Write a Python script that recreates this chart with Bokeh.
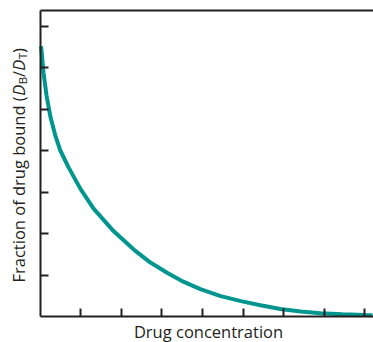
import math
from bokeh.plotting import figure
from bokeh.models import Range1d, FixedTicker, Label, LinearAxis
from bokeh.embed import file_html
from bokeh.resources import INLINE

# ---- data (arbitrary units) ----
conc = [0.025, 0.037, 0.086, 0.16, 0.26, 0.38, 0.50, 0.70, 1.00, 1.32, 1.79, 2.35,
        2.72, 3.14, 3.53, 3.95, 4.45, 4.95, 5.43, 5.92, 6.42, 6.91, 7.45, 7.99, 8.19]
frac_bound = [6.51, 6.41, 5.88, 5.33, 4.80, 4.35, 4.00, 3.60, 3.07, 2.60, 2.08, 1.58,
              1.30, 1.05, 0.84, 0.66, 0.49, 0.37, 0.27, 0.18, 0.12, 0.08, 0.053, 0.036,
              0.031]
x_ticks = [1, 2, 3, 4, 5, 6, 7, 8]
y_ticks = [1, 2, 3, 4, 5, 6, 7]
x_label = "Drug concentration"
y_label_main = "Fraction of drug bound ("

INK = "#231f20"
TEAL = "#00968f"
FONT = "Open Sans"

W, H = 373, 342
# layout of the plot area in page pixels
X0_PX, Y0_PX = 39.5, 316.0     # where the data origin sits
PX_X, PX_Y = 40.6, 41.5        # pixels per data unit
TOP_PX = 10.0                  # top frame line

X_START = -X0_PX / PX_X
X_END = (W - X0_PX) / PX_X
Y_START = -(H - Y0_PX) / PX_Y
Y_END = Y0_PX / PX_Y
Y_TOP = (Y0_PX - TOP_PX) / PX_Y

p = figure(width=W, height=H, output_backend="svg", toolbar_location=None,
           x_range=Range1d(X_START, X_END), y_range=Range1d(Y_START, Y_END),
           min_border=0, x_axis_type=None, y_axis_type=None)
p.grid.visible = False
p.outline_line_color = None
p.background_fill_color = "white"
p.border_fill_color = "white"


def make_axis(ticks, bounds, loc):
    ax = LinearAxis(fixed_location=loc, bounds=bounds)
    ax.ticker = FixedTicker(ticks=ticks)
    ax.axis_line_color = INK
    ax.axis_line_width = 2
    ax.major_tick_line_color = INK if ticks else None
    ax.major_tick_line_width = 2
    ax.major_tick_in = 8
    ax.major_tick_out = 0
    ax.minor_tick_line_color = None
    ax.major_label_text_color = None
    ax.major_label_text_font_size = "1px"
    ax.major_label_standoff = 0
    return ax


p.add_layout(make_axis(x_ticks, (0, X_END), 0), "below")
p.add_layout(make_axis(y_ticks, (0, Y_TOP), 0), "left")
p.add_layout(make_axis([], (0, X_END), Y_TOP), "above")

p.line(conc, frac_bound, line_color=TEAL, line_width=4)

# x label (screen px from the bottom-left of the canvas)
p.add_layout(Label(x=208, y=H - 331, x_units="screen", y_units="screen",
                   text=x_label, text_align="center", text_baseline="alphabetic",
                   text_font=FONT, text_font_size="16.5px", text_color=INK))

# rotated y label composed of pieces
FS = 16.5
SS = 11.5
pieces = [
    (y_label_main, "normal", FS, 0.0, 11.318),
    ("D", "italic", FS, 0.0, 0.70),
    ("B", "normal", SS, 3.5, 0.633),
    ("/", "normal", FS, 0.0, 0.37),
    ("D", "italic", FS, 0.0, 0.70),
    ("T", "normal", SS, 3.5, 0.537),
    (")", "normal", FS, 0.0, 0.295),
]
BASE_X = 18
pos = H - 282.0
for txt, style, size, shift, adv in pieces:
    p.add_layout(Label(x=BASE_X + shift, y=pos, x_units="screen", y_units="screen",
                       text=txt, angle=math.pi / 2,
                       text_align="left", text_baseline="alphabetic",
                       text_font=FONT, text_font_style=style,
                       text_font_size=f"{size}px", text_color=INK))
    pos += adv * size

open("out.html", "w").write(file_html(p, INLINE))
